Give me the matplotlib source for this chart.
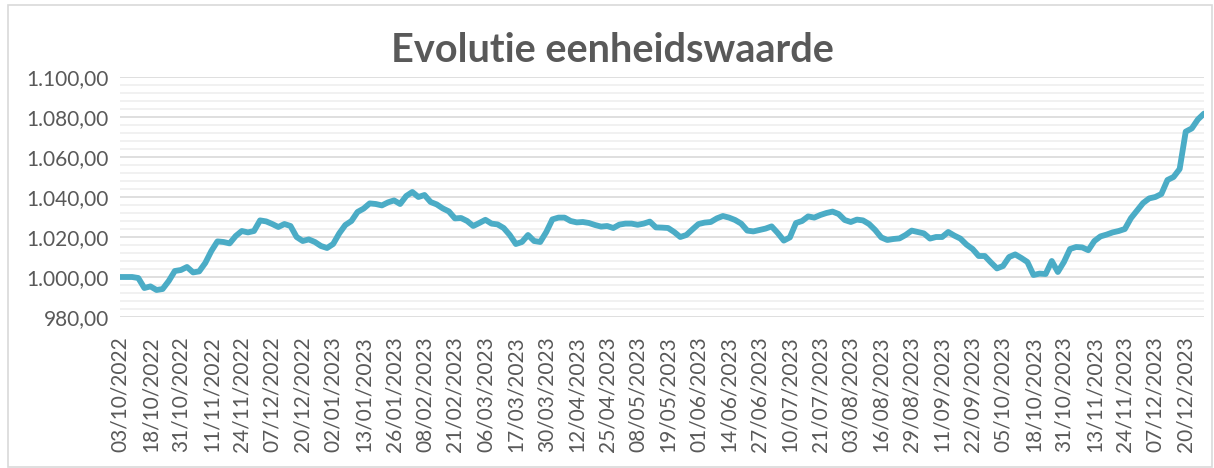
import numpy as np
import matplotlib
matplotlib.use("Agg")
import matplotlib.pyplot as plt
from matplotlib.ticker import FuncFormatter, MultipleLocator
from matplotlib.patches import Rectangle

# tick labels on the category axis (one label every 5 samples)
date_labels = [
    "03/10/2022", "18/10/2022", "31/10/2022", "11/11/2022", "24/11/2022",
    "07/12/2022", "20/12/2022", "02/01/2023", "13/01/2023", "26/01/2023",
    "08/02/2023", "21/02/2023", "06/03/2023", "17/03/2023", "30/03/2023",
    "12/04/2023", "25/04/2023", "08/05/2023", "19/05/2023", "01/06/2023",
    "14/06/2023", "27/06/2023", "10/07/2023", "21/07/2023", "03/08/2023",
    "16/08/2023", "29/08/2023", "11/09/2023", "22/09/2023", "05/10/2023",
    "18/10/2023", "31/10/2023", "13/11/2023", "24/11/2023", "07/12/2023",
    "20/12/2023",
]
label_step = 5

# unit value, every second trading day
unit_value = [
    1000.0, 1000.0, 1000.0, 999.5, 994.5, 995.3, 993.5, 994.0, 998.0, 1003.0,
    1003.5, 1005.0, 1002.3, 1002.8, 1007.0, 1013.0, 1017.8, 1017.5, 1016.8, 1020.5,
    1023.0, 1022.3, 1023.0, 1028.3, 1027.8, 1026.5, 1025.0, 1026.5, 1025.5, 1020.0,
    1018.0, 1018.8, 1017.5, 1015.5, 1014.5, 1016.5, 1021.8, 1026.0, 1028.0, 1032.5,
    1034.2, 1036.8, 1036.5, 1035.8, 1037.3, 1038.3, 1036.5, 1040.5, 1042.5, 1040.0,
    1041.0, 1037.5, 1036.3, 1034.3, 1032.8, 1029.3, 1029.5, 1028.0, 1025.5, 1027.0,
    1028.6, 1026.7, 1026.3, 1024.5, 1021.0, 1016.5, 1017.5, 1021.0, 1018.0, 1017.5,
    1022.5, 1028.8, 1029.7, 1029.7, 1028.0, 1027.3, 1027.5, 1027.0, 1026.0, 1025.2,
    1025.5, 1024.5, 1026.2, 1026.7, 1026.7, 1026.1, 1026.7, 1027.7, 1024.8, 1024.7,
    1024.5, 1022.5, 1020.0, 1021.0, 1023.8, 1026.5, 1027.2, 1027.5, 1029.3, 1030.5,
    1029.7, 1028.5, 1026.7, 1023.2, 1022.8, 1023.5, 1024.2, 1025.3, 1022.0, 1018.2,
    1019.8, 1027.0, 1028.0, 1030.3, 1029.7, 1031.0, 1032.0, 1032.7, 1031.5, 1028.5,
    1027.5, 1028.7, 1028.3, 1026.5, 1023.5, 1019.8, 1018.5, 1019.0, 1019.3, 1021.0,
    1023.2, 1022.5, 1021.8, 1019.2, 1020.0, 1020.0, 1022.5, 1020.7, 1019.2, 1016.2,
    1014.0, 1010.5, 1010.5, 1007.3, 1004.3, 1005.5, 1010.0, 1011.3, 1009.5, 1007.5,
    1001.0, 1001.7, 1001.5, 1008.0, 1002.5, 1007.5, 1014.0, 1015.0, 1014.8, 1013.4,
    1018.0, 1020.3, 1021.2, 1022.3, 1023.0, 1024.0, 1029.4, 1033.2, 1037.0, 1039.3,
    1040.0, 1041.5, 1048.5, 1050.0, 1054.0, 1072.7, 1074.3, 1078.8, 1081.7,
]

LINE = "#4bacc6"
TEXT = "#595959"

plt.rcParams["font.family"] = ["Lato", "DejaVu Sans"]

fig = plt.figure(figsize=(12.14, 4.68), dpi=100)
ax = fig.add_axes([120 / 1214, 1 - 317 / 468, (1204 - 120) / 1214, (317 - 77) / 468])

x = np.arange(len(unit_value))
ax.plot(x, unit_value, color=LINE, lw=4.2, solid_capstyle="round", solid_joinstyle="round", zorder=3)

ax.set_xlim(0, len(unit_value) - 1)
ax.set_ylim(980, 1100)

# gridlines: major every 20, minor every 4
ax.yaxis.set_major_locator(MultipleLocator(20))
ax.yaxis.set_minor_locator(MultipleLocator(4))
ax.grid(axis="y", which="major", color="#d9d9d9", lw=1.2, zorder=1)
ax.grid(axis="y", which="minor", color="#efefef", lw=1.2, zorder=0)

def euro(v, pos):
    s = f"{v:,.2f}"
    return s.replace(",", "X").replace(".", ",").replace("X", ".")

ax.yaxis.set_major_formatter(FuncFormatter(euro))

ax.set_xticks(np.arange(len(date_labels)) * label_step)
ax.set_xticklabels(date_labels, rotation=90)

ax.tick_params(axis="y", which="both", length=0, labelsize=15, labelcolor=TEXT, pad=8)
ax.tick_params(axis="x", length=0, labelsize=15, labelcolor=TEXT, pad=14)
for s in ax.spines.values():
    s.set_visible(False)

fig.text(612 / 1214, 1 - 51 / 468, "Evolutie eenheidswaarde", ha="center", va="center",
         fontsize=28.5, fontweight="bold", color=TEXT)

# chart border
fig.patches.append(Rectangle((8 / 1214, 1 / 468), 1204 / 1214, 462 / 468,
                             transform=fig.transFigure, fill=False,
                             edgecolor="#d9d9d9", lw=1.2))

fig.savefig("out.png", dpi=100)
